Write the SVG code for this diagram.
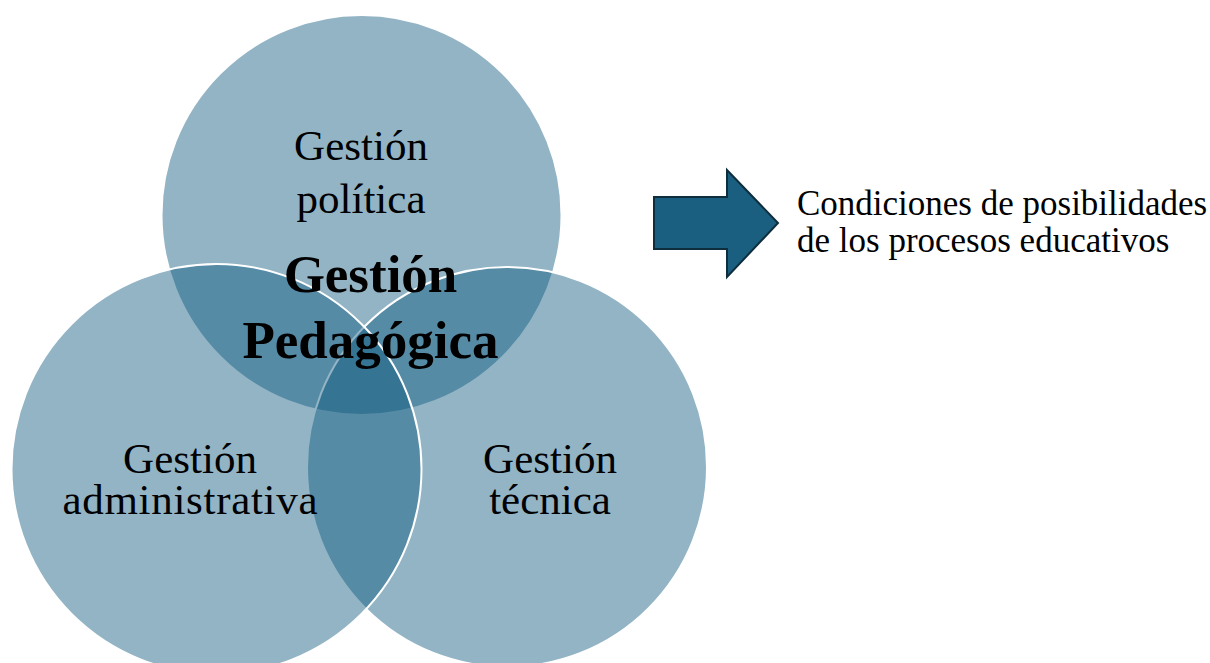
<svg xmlns="http://www.w3.org/2000/svg" width="1210" height="663" viewBox="0 0 1210 663">
  <style>
    .c { fill: #0D587E; fill-opacity: 0.45; stroke: #ffffff; stroke-width: 2; }
    .lbl { font-family: "Liberation Serif", "Times New Roman", serif; font-size: 43px; fill: #000; text-anchor: middle; }
    .ctr { font-family: "Liberation Serif", "Times New Roman", serif; font-size: 53px; font-weight: bold; fill: #000; text-anchor: middle; }
    .side { font-family: "Liberation Serif", "Times New Roman", serif; font-size: 35px; fill: #000; }
  </style>
  <rect x="0" y="0" width="1210" height="663" fill="#ffffff"/>
  <g id="circle-politica">
    <circle class="c" cx="361.5" cy="215" r="200"/>
  </g>
  <g id="circle-tecnica">
    <circle class="c" cx="507" cy="467" r="200"/>
  </g>
  <g id="circle-administrativa">
    <circle class="c" cx="216.5" cy="469" r="205"/>
  </g>
  <g id="label-politica">
    <text class="lbl" x="361" y="160">Gestión</text>
    <text class="lbl" x="361" y="213">política</text>
  </g>
  <g id="label-administrativa">
    <text class="lbl" x="190" y="473">Gestión</text>
    <text class="lbl" x="190" y="514" textLength="255" lengthAdjust="spacing">administrativa</text>
  </g>
  <g id="label-tecnica">
    <text class="lbl" x="550" y="473">Gestión</text>
    <text class="lbl" x="550" y="514">técnica</text>
  </g>
  <g id="center-label">
    <text class="ctr" x="370.5" y="292">Gestión</text>
    <text class="ctr" x="370.5" y="358">Pedagógica</text>
  </g>
  <g id="connectors">
    <path d="M654,197 H727 V170 L778,223 L727,277 V249 H654 Z" fill="#1A5E80" stroke="#0F2E3D" stroke-width="2" stroke-linejoin="miter"/>
  </g>
  <g id="result">
    <text class="side" x="797" y="215">Condiciones de posibilidades</text>
    <text class="side" x="797" y="252">de los procesos educativos</text>
  </g>
</svg>
